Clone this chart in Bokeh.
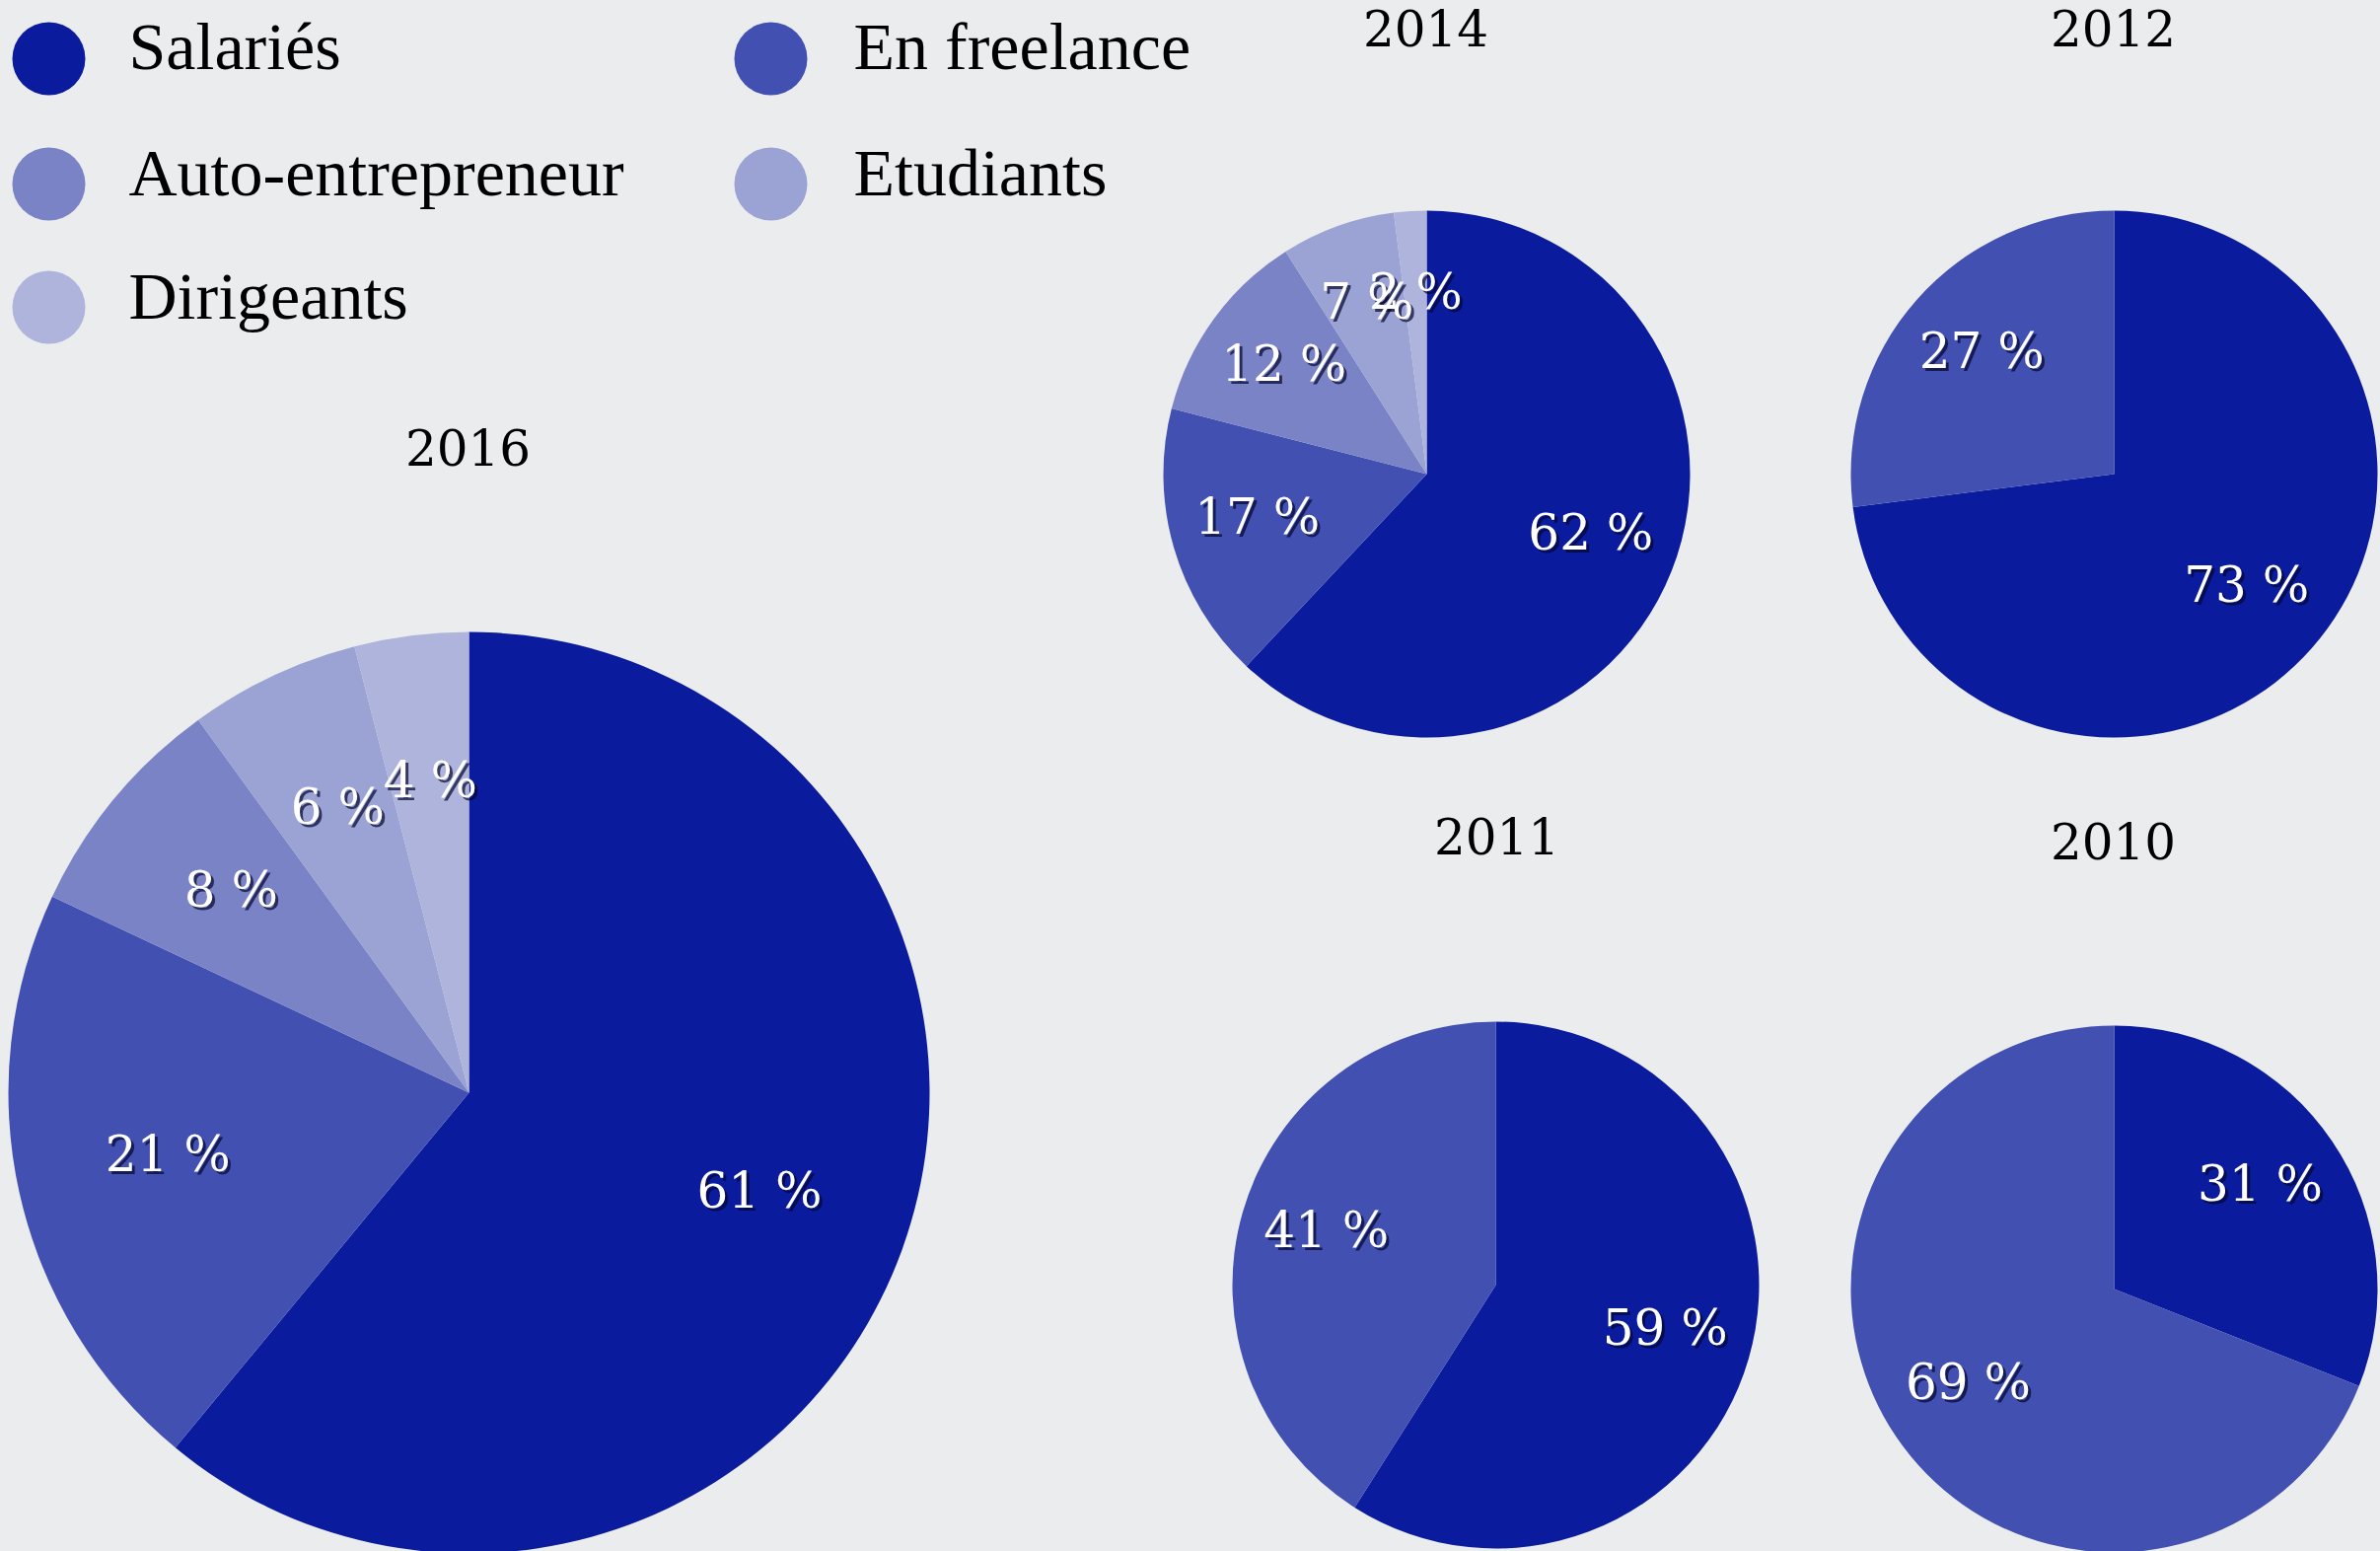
import math
from bokeh.plotting import figure
from bokeh.models import Range1d, ColumnDataSource
from bokeh.core.properties import value
from bokeh.embed import file_html
from bokeh.resources import INLINE

# ---------------- data ----------------
categories = ["Salariés", "En freelance", "Auto-entrepreneur", "Etudiants", "Dirigeants"]
colors = ["#0a1b9e", "#4250b2", "#7a83c6", "#9aa3d3", "#aeb4db"]
years = ["2016", "2014", "2012", "2011", "2010"]
values_2016 = [61, 21, 8, 6, 4]
values_2014 = [62, 17, 12, 7, 2]
values_2012 = [73, 27]
values_2011 = [59, 41]
values_2010 = [31, 69]
series = [values_2016, values_2014, values_2012, values_2011, values_2010]

# ---------------- layout (screen px) ----------------
W, H = 2413, 1572
BG = "#ebecee"
pie_centers = [(475, 1107), (1446, 480), (2143, 480), (1516, 1302), (2143, 1306)]
pie_radii = [467, 267, 267, 267, 267]
title_pos = [(474, 453), (1445, 28), (2142, 28), (1517, 847), (2142, 852)]
legend_dot_pos = [(49, 59), (781, 59), (49, 186), (781, 186), (49, 311)]
legend_text_pos = [(130, 46), (865, 46), (130, 174), (865, 174), (130, 299)]
LABEL_DY = 6  # labels sit slightly above the mid-radius point


def sx(x):
    return x


def sy(y):
    return H - y


p = figure(width=W, height=H, x_range=Range1d(0, W), y_range=Range1d(0, H),
           x_axis_type=None, y_axis_type=None, toolbar_location=None,
           output_backend="svg", min_border=0)
p.background_fill_color = BG
p.border_fill_color = BG
p.outline_line_color = None
p.grid.visible = False

label_font = value("DejaVu Serif")

for vals, (cx, cy), R, yr, (tx, ty) in zip(series, pie_centers, pie_radii, years, title_pos):
    total = float(sum(vals))
    starts, ends, cols, lx, ly, texts = [], [], [], [], [], []
    cum = 0.0
    for i, v in enumerate(vals):
        f0 = cum / total
        cum += v
        f1 = cum / total
        starts.append(math.pi / 2 - 2 * math.pi * f0)
        ends.append(math.pi / 2 - 2 * math.pi * f1)
        cols.append(colors[i])
        fm = (f0 + f1) / 2
        th = 2 * math.pi * fm
        lx.append(sx(cx) + 0.67 * R * math.sin(th))
        ly.append(sy(cy) + 0.67 * R * math.cos(th) + LABEL_DY)
        texts.append(f"{v} %")
    src = ColumnDataSource(dict(x=[sx(cx)] * len(vals), y=[sy(cy)] * len(vals),
                                start=starts, end=ends, color=cols))
    p.wedge(x="x", y="y", radius=R, radius_units="screen", start_angle="start",
            end_angle="end", direction="clock", fill_color="color", line_color=None,
            source=src)
    # shadow then label
    p.text(x=[a + 3 for a in lx], y=[b - 3 for b in ly], text=texts, text_font=label_font,
           text_font_size="50px", text_color="#03062e", text_alpha=0.7,
           text_align="center", text_baseline="middle")
    p.text(x=lx, y=ly, text=texts, text_font=label_font, text_font_size="50px",
           text_color="white", text_align="center", text_baseline="middle")
    p.text(x=[sx(tx)], y=[sy(ty)], text=[yr], text_font=label_font, text_font_size="50px",
           text_color="black", text_align="center", text_baseline="middle")

# legend
p.scatter(x=[sx(a) for a, b in legend_dot_pos], y=[sy(b) for a, b in legend_dot_pos],
          size=74, marker="circle", fill_color=colors, line_color=None)
p.text(x=[sx(a) for a, b in legend_text_pos], y=[sy(b) for a, b in legend_text_pos],
       text=categories, text_font=value("Liberation Serif"), text_font_size="68px",
       text_color="black", text_align="left", text_baseline="middle")

html = file_html(p, INLINE)
html = html.replace("<head>", "<head><style>html,body{background:#ebecee;}</style>", 1)
open("out.html", "w").write(html)
